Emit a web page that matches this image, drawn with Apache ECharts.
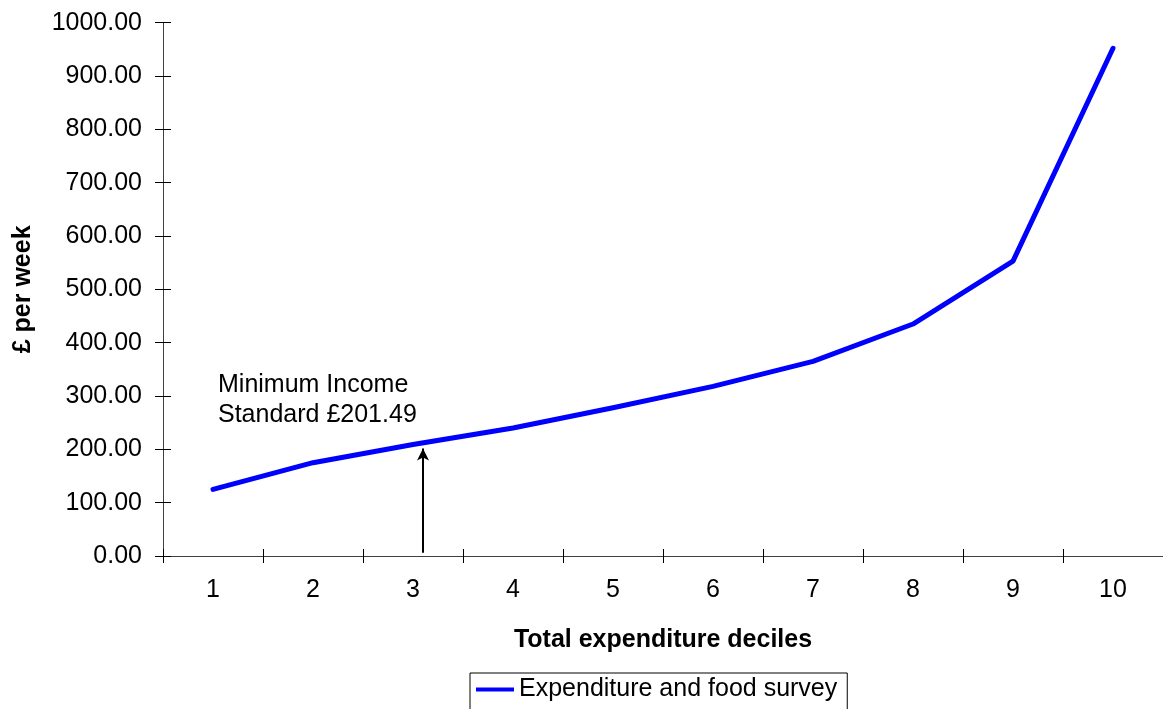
<!DOCTYPE html>
<html>
<head>
<meta charset="utf-8">
<title>Weekly expenditure by decile</title>
<script src="https://cdn.jsdelivr.net/npm/echarts@6/dist/echarts.min.js"></script>
<style>
  html, body { margin: 0; padding: 0; background: #fff; }
  #chart { width: 1163px; height: 709px; }
</style>
</head>
<body>
<div id="chart"></div>
<script>
// Total expenditure deciles and weekly spend (£ per week)
const deciles = ['1', '2', '3', '4', '5', '6', '7', '8', '9', '10'];
const weeklySpend = [125, 175, 209, 240, 278, 318, 365, 435, 553, 952];
const seriesName = 'Expenditure and food survey';

// Minimum Income Standard marker: position along the decile scale and its value
const misPosition = 3.1;
const misBase = 6;
const misValue = 201.49;
const misText = ['Minimum Income', 'Standard £' + misValue.toFixed(2)];

const FONT = '"Liberation Sans", Arial, sans-serif';
const AXIS_COLOR = '#404040';

const chart = echarts.init(document.getElementById('chart'), null, { renderer: 'canvas' });

const yCommon = {
  type: 'value', min: 0, max: 1000, interval: 100, position: 'left',
  splitLine: { show: false }
};

chart.setOption({
  animation: false,
  backgroundColor: '#fff',
  grid: { left: 163, right: 0, top: 22.7, bottom: 153, containLabel: false },
  xAxis: [
    {
      type: 'category', data: deciles, boundaryGap: true, position: 'bottom',
      axisLine: { lineStyle: { color: AXIS_COLOR, width: 1 } },
      axisTick: { show: true, length: 7, alignWithLabel: false, lineStyle: { color: '#000' } },
      axisLabel: { color: '#000', fontFamily: FONT, fontSize: 25, margin: 22 },
      name: 'Total expenditure deciles', nameLocation: 'middle', nameGap: 72,
      nameTextStyle: { color: '#000', fontFamily: FONT, fontSize: 25, fontWeight: 'bold' }
    },
    {
      // inner half of the crossing ticks
      type: 'category', data: deciles, boundaryGap: true, position: 'bottom',
      axisLine: { show: false },
      axisTick: { show: true, inside: true, length: 7, lineStyle: { color: '#000' } },
      axisLabel: { show: false }
    },
    {
      // continuous decile scale used to place the annotation arrow
      type: 'value', min: 0.5, max: 10.5, show: false, position: 'bottom'
    }
  ],
  yAxis: [
    Object.assign({}, yCommon, {
      axisLine: { show: true, lineStyle: { color: AXIS_COLOR, width: 1 } },
      axisTick: { show: true, length: 8, lineStyle: { color: '#000' } },
      axisLabel: {
        color: '#000', fontFamily: FONT, fontSize: 25, margin: 21,
        formatter: v => v.toFixed(2)
      },
      name: '£ per week', nameLocation: 'middle', nameGap: 127, nameRotate: 90,
      nameTextStyle: { color: '#000', fontFamily: FONT, fontSize: 25, fontWeight: 'bold' }
    }),
    Object.assign({}, yCommon, {
      // inner half of the crossing ticks
      offset: 0,
      axisLine: { show: false },
      axisTick: { show: true, inside: true, length: 8, lineStyle: { color: '#000' } },
      axisLabel: { show: false }
    })
  ],
  legend: {
    left: 470, top: 673,
    padding: [4, 10, 8, 6],
    borderColor: '#000', borderWidth: 1,
    itemWidth: 38, itemHeight: 4, itemGap: 10,
    textStyle: { color: '#000', fontFamily: FONT, fontSize: 25 },
    data: [{ name: seriesName, icon: 'rect' }]
  },
  series: [
    {
      name: seriesName, type: 'line',
      xAxisIndex: 0, yAxisIndex: 0,
      data: weeklySpend,
      symbol: 'none', smooth: false,
      lineStyle: { color: '#0000ff', width: 5, cap: 'round', join: 'round' },
      itemStyle: { color: '#0000ff' }
    },
    {
      name: 'mis', type: 'line', xAxisIndex: 2, yAxisIndex: 0,
      data: [], symbol: 'none', silent: true,
      markLine: {
        silent: true,
        symbol: ['none', 'arrow'], symbolSize: [9, 12],
        label: { show: false },
        lineStyle: { color: '#000', width: 2, type: 'solid' },
        data: [[ { coord: [misPosition, misBase] }, { coord: [misPosition, misValue] } ]]
      }
    }
  ],
  graphic: [
    {
      type: 'text', left: 218, top: 370,
      style: {
        text: misText.join('\n'),
        fill: '#000', font: '25px ' + FONT, lineHeight: 30
      }
    }
  ]
});
</script>
</body>
</html>
